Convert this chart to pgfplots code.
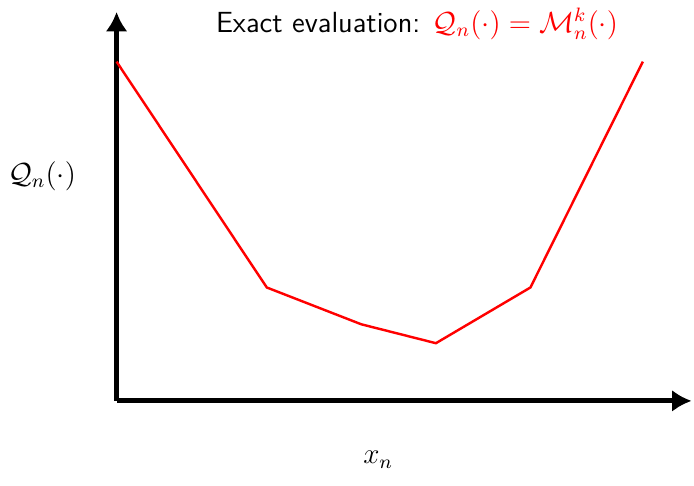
\documentclass[border=0pt]{standalone}
\usepackage{pgfplots}
\pgfplotsset{compat=1.18}
\usetikzlibrary{arrows.meta}
\begin{document}
\begin{tikzpicture}
\begin{axis}[
  x=0.41pt, y=0.41pt,
  xmin=0, xmax=578, ymin=0, ymax=391,
  axis lines=left,
  axis line style={line width=2pt, -{Latex[length=8pt,width=9pt]}},
  xtick=\empty, ytick=\empty,
  clip=false,
]
\addplot[red, line width=1pt] coordinates {(0,341) (151,114) (246,77) (321,58) (416,114) (529,341)};
\node[font=\fontsize{12}{14}\selectfont] at (axis cs:302,379) {\sffamily Exact evaluation: \textcolor{red}{$\mathcal{Q}_n(\cdot)=\mathcal{M}_n^k(\cdot)$}};
\node[font=\fontsize{12}{14}\selectfont] at (axis cs:-75,226) {$\mathcal{Q}_n(\cdot)$};
\node[font=\fontsize{12}{14}\selectfont] at (axis cs:263,-59) {$x_n$};
\path (axis cs:-117,-85) rectangle (axis cs:577,403);
\end{axis}
\end{tikzpicture}
\end{document}
